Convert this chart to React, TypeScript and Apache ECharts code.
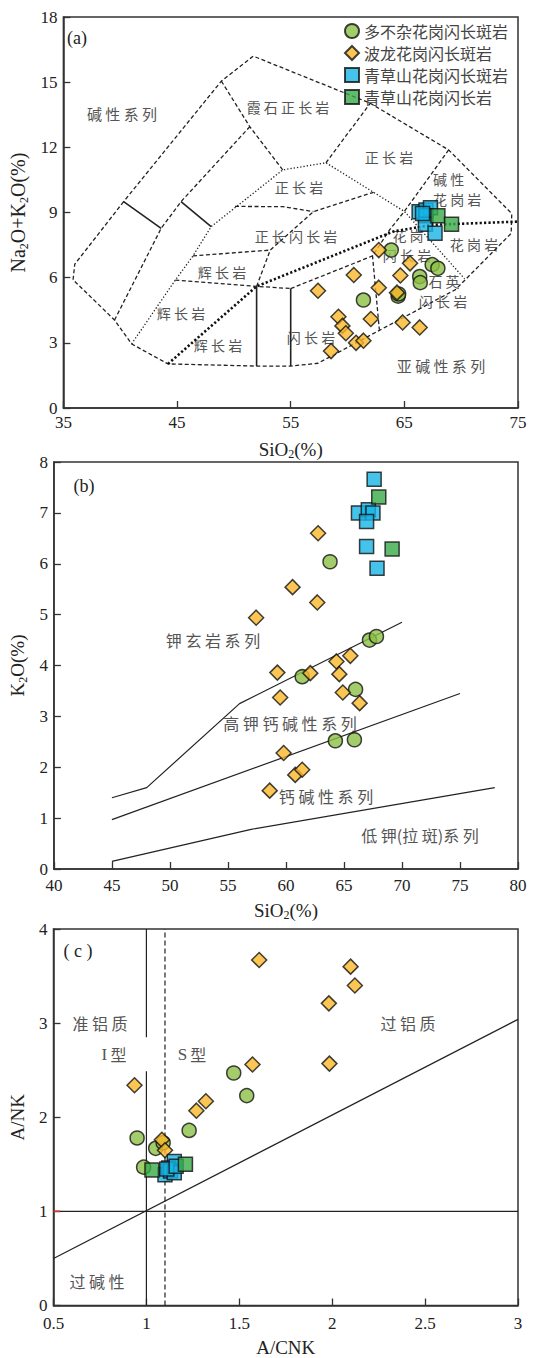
import React, { useEffect, useRef } from 'react';
import * as echarts from 'echarts';

// ---------- series names ----------
const seriesNames = ['多不杂花岗闪长斑岩', '波龙花岗闪长斑岩', '青草山花岗闪长斑岩', '青草山花岗闪长岩'];

// ---------- (a) TAS: SiO2 vs Na2O+K2O ----------
const tasCircle = [[63.85, 7.27], [67.45, 6.6], [67.95, 6.43], [66.35, 6.05], [66.4, 5.77], [64.45, 5.15], [64.5, 5.25], [61.4, 4.97]];
const tasDiamond = [[57.4, 5.4], [60.55, 6.12], [62.75, 7.27], [62.75, 5.54], [62.05, 4.1], [59.2, 4.2], [59.55, 3.78], [59.85, 3.44], [58.55, 2.62], [60.75, 3.0], [61.4, 3.1], [64.65, 6.1], [65.5, 6.66], [64.35, 5.31], [64.85, 3.94], [66.35, 3.71]];
const tasBlue = [[66.3, 9.04], [66.9, 9.12], [67.3, 9.22], [66.9, 8.85], [66.85, 8.46], [67.7, 8.04], [66.6, 8.95]];
const tasGreenSq = [[67.95, 8.85], [69.15, 8.46]];

// TAS field boundaries
const tasOuter = [[40.3, 9.5], [36.0, 6.62], [35.85, 5.9], [39.5, 4.05], [41.0, 2.95], [44.2, 2.03], [52.0, 1.93], [55.0, 1.93], [57.4, 2.06], [69.5, 5.45], [74.4, 8.04], [74.45, 8.95], [68.9, 11.88], [62.0, 14.03], [51.7, 16.2], [48.9, 15.05], [40.3, 9.5]];
const tasL1 = [[39.5, 4.05], [43.6, 8.27], [45.35, 9.5], [51.4, 12.95]];
const tasL1b = [[48.9, 15.05], [51.4, 12.95], [54.3, 10.96]];
const tasSolid1 = [[40.3, 9.5], [43.6, 8.27]];
const tasSolid2 = [[45.35, 9.5], [48.0, 8.35]];
const tasSolid3 = [[52.0, 1.93], [52.0, 5.6]];
const tasSolid4 = [[55.0, 1.93], [55.0, 5.5]];
const tasDot = [[41.0, 2.95], [44.85, 5.89], [46.4, 7.0], [48.0, 8.35], [54.3, 10.96], [58.1, 11.29], [65.0, 9.05], [70.3, 5.95]];
const tasL3 = [[58.1, 11.29], [62.0, 14.03]];
const tasL5 = [[68.9, 11.88], [65.0, 9.05], [63.7, 8.2], [62.2, 7.0], [62.8, 3.6]];
const tasL6 = [[55.0, 5.5], [62.2, 7.0]];
const tasL8 = [[46.4, 7.0], [53.2, 7.27]];
const tasL9 = [[52.0, 5.6], [53.2, 7.27], [57.0, 9.04], [62.3, 9.93]];
const tasL10 = [[50.1, 9.28], [54.3, 9.27], [57.0, 9.04]];
const tasL11 = [[44.85, 5.89], [52.0, 5.6], [55.0, 5.5]];
const tasAlkali = [[44.2, 2.03], [52.0, 5.6], [64.0, 8.12], [67.4, 8.43], [75, 8.58]];
const tasXTicks = [35, 45, 55, 65, 75];

// ---------- (b) SiO2 vs K2O ----------
const kCircle = [[63.8, 6.04], [67.2, 4.5], [67.8, 4.57], [61.4, 3.78], [66.0, 3.53], [64.26, 2.52], [65.9, 2.54]];
const kDiamond = [[62.77, 6.6], [60.57, 5.54], [62.7, 5.24], [57.43, 4.94], [59.26, 3.86], [64.35, 4.08], [65.55, 4.19], [62.1, 3.85], [64.6, 3.83], [59.5, 3.37], [64.9, 3.47], [66.35, 3.26], [59.8, 2.28], [60.8, 1.85], [61.4, 1.95], [58.6, 1.54]];
const kBlue = [[67.6, 7.66], [66.25, 7.0], [67.1, 7.06], [67.5, 7.0], [66.95, 6.83], [66.95, 6.34], [67.85, 5.91]];
const kGreenSq = [[68.0, 7.31], [69.15, 6.29]];
const kLineShoshonite = [[45, 1.4], [48, 1.6], [56, 3.25], [70, 4.85]];
const kLineHighK = [[45, 0.97], [75, 3.45]];
const kLineLowK = [[45, 0.15], [57, 0.78], [78, 1.6]];

// ---------- (c) A/CNK vs A/NK ----------
const aCircle = [[0.95, 1.78], [1.05, 1.67], [1.09, 1.73], [0.985, 1.47], [1.23, 1.86], [1.47, 2.47], [1.54, 2.23]];
const aDiamond = [[2.77, 4.02], [1.607, 3.67], [2.099, 3.6], [2.122, 3.4], [1.982, 3.21], [1.985, 2.57], [1.571, 2.56], [0.936, 2.34], [1.32, 2.17], [1.269, 2.07], [1.083, 1.76], [1.1, 1.65]];
const aBlue = [[1.1, 1.39], [1.15, 1.53], [1.12, 1.46], [1.13, 1.43], [1.15, 1.41], [1.11, 1.45], [1.16, 1.48]];
const aGreenSq = [[1.03, 1.44], [1.21, 1.5]];
const aLineHoriz = [[0.5, 1], [3, 1]];
const aLineVertLow = [[1, 0], [1, 2.49]];
const aLineVertHigh = [[1, 2.85], [1, 4]];
const aLineDashed = [[1.1, 0], [1.1, 4]];
const aLineDiag = [[0.5, 0.5], [3, 3.04]];
const aRedTick = [[0.5, 1], [0.535, 1]];

const SERIF = '"Liberation Serif", "Times New Roman", serif';
const CJK = '"Noto Sans CJK SC", sans-serif';

const colors = ['#8cbf45', '#fbb829', '#16b4e6', '#3aaa48'];
const symbols = ['circle', 'diamond', 'rect', 'rect'];
const sizes = [14, 15, 14, 14];

const dashed = { color: '#222', width: 1.3, type: [4, 2.5] };
const dotted = { color: '#222', width: 1.3, type: [1.3, 2] };
const heavyDot = { color: '#111', width: 2.6, type: [2.2, 2.2] };
const solid = { color: '#222', width: 1.6, type: 'solid' };
const thin = { color: '#222', width: 1.2, type: 'solid' };

function ln(data: number[][], g: number, style: any, z = 3) {
  return { type: 'line', xAxisIndex: g, yAxisIndex: g, data, symbol: 'none', silent: true, lineStyle: style, z };
}
function sc(i: number, data: number[][], g: number) {
  return {
    type: 'scatter', name: seriesNames[i], xAxisIndex: g, yAxisIndex: g, data,
    symbol: symbols[i], symbolSize: sizes[i],
    itemStyle: { color: colors[i], borderColor: '#111', borderWidth: 1.5 }, z: 5,
  };
}
function txt(text: string, x: number, y: number, extra: any = {}) {
  const fs = extra.fontSize || 14;
  return {
    type: 'text', x, y, z: 1, silent: true,
    style: {
      text, fill: '#555', fontSize: fs, fontFamily: CJK, lineHeight: fs,
      textAlign: 'center', textVerticalAlign: 'middle', align: 'center', verticalAlign: 'middle',
      ...extra,
    },
  };
}
const mixRich = {
  s: { fontFamily: SERIF, fontSize: 17, color: '#555', lineHeight: 16 },
  c: { fontFamily: CJK, fontSize: 16, color: '#555', lineHeight: 16 },
};

const richName = {
  a: { fontSize: 19, fontFamily: SERIF, color: '#222', lineHeight: 22 },
  b: { fontSize: 12, fontFamily: SERIF, color: '#222', verticalAlign: 'bottom', lineHeight: 15 },
};
const richNameBig = {
  a: { fontSize: 20, fontFamily: SERIF, color: '#222', lineHeight: 23 },
  b: { fontSize: 12, fontFamily: SERIF, color: '#222', verticalAlign: 'bottom', lineHeight: 15 },
};
const tickLabel = { color: '#222', fontFamily: SERIF, fontSize: 17 };
const axLine = { show: true, lineStyle: { color: '#333', width: 1.5 } };
const tickStyle = { show: true, inside: true, length: 7, lineStyle: { color: '#333', width: 1.3 } };

function xAx(g: number, min: number, max: number, extra: any, name: string, gap: number, margin: number) {
  return {
    type: 'value', gridIndex: g, min, max, name, nameLocation: 'middle', nameGap: gap,
    nameTextStyle: { rich: richName },
    axisLine: axLine, axisTick: { ...tickStyle, ...(extra.tick || {}) },
    axisLabel: { ...tickLabel, margin, ...(extra.axisLabel || {}) },
    splitLine: { show: false }, ...(extra.base || {}),
  };
}
function yAx(g: number, min: number, max: number, interval: number, name: string, gap: number, rich: any) {
  return {
    type: 'value', gridIndex: g, min, max, interval, name, nameLocation: 'middle', nameGap: gap,
    nameTextStyle: { rich },
    axisLine: axLine, axisTick: tickStyle,
    axisLabel: { ...tickLabel, margin: 6 },
    splitLine: { show: false },
  };
}

export default function App() {
  const ref = useRef<HTMLDivElement>(null);
  useEffect(() => {
    if (!ref.current) return;
    const chart = echarts.init(ref.current, null, { renderer: 'svg' });
    const gridBase = { show: true, borderColor: '#333', borderWidth: 1.5, backgroundColor: 'transparent', left: 52, width: 466 };
    const option: any = {
      animation: false,
      backgroundColor: '#fff',
      grid: [
        { ...gridBase, top: 17, height: 391 },
        { ...gridBase, top: 462, height: 407 },
        { ...gridBase, top: 929, height: 381 },
      ],
      xAxis: [
        xAx(0, 35, 75, { axisLabel: { customValues: tasXTicks }, tick: { customValues: tasXTicks } }, '{a|SiO}{b|2}{a|(%)}', 30, 6),
        xAx(1, 40, 80, { base: { interval: 5 } }, '{a|SiO}{b|2}{a|(%)}', 30, 8),
        xAx(2, 0.5, 3, { base: { interval: 0.5 } }, '{a|A/CNK}', 31, 9),
      ],
      yAxis: [
        yAx(0, 0, 18, 3, '{a|Na}{b|2}{a|O+K}{b|2}{a|O(%)}', 25, richNameBig),
        yAx(1, 0, 8, 1, '{a|K}{b|2}{a|O(%)}', 25, richName),
        yAx(2, 0, 4, 1, '{a|A/NK}', 25, richName),
      ],
      legend: {
        show: true, orient: 'vertical', left: 344, top: 23, itemGap: 6, itemWidth: 14, itemHeight: 14,
        padding: 0, selectedMode: false, data: seriesNames,
        textStyle: { fontFamily: CJK, fontSize: 16, color: '#444' },
      },
      graphic: [
        txt('(a)', 77, 38, { fontFamily: SERIF, fontSize: 18, fill: '#222' }),
        txt('碱 性 系 列', 122, 113, { fontSize: 15 }),
        txt('霞 石 正 长 岩', 288, 107),
        txt('正 长 岩', 389, 157),
        txt('正 长 岩', 299, 187),
        txt('碱 性', 433, 179, { textAlign: 'left', align: 'left' }),
        txt('花 岗 岩', 433, 199, { textAlign: 'left', align: 'left' }),
        txt('正 长 闪 长 岩', 296, 236),
        txt('辉 长 岩', 222, 272),
        txt('辉 长 岩', 181, 313),
        txt('辉 长 岩', 218, 345),
        txt('闪 长 岩', 311, 337),
        txt('花 岗', 408, 235),
        txt('闪 长 岩', 407, 255),
        txt('花 岗 岩', 474, 244),
        txt('石 英', 444, 281),
        txt('闪 长 岩', 443, 301),
        txt('亚 碱 性 系 列', 441, 365, { fontSize: 15 }),

        txt('(b)', 84, 486, { fontFamily: SERIF, fontSize: 18, fill: '#222' }),
        txt('钾 玄 岩 系 列', 213, 640, { fontSize: 16 }),
        txt('高 钾 钙 碱 性 系 列', 290, 723, { fontSize: 16 }),
        txt('钙 碱 性 系 列', 326, 796, { fontSize: 16 }),
        txt('低 钾(拉 斑)系 列', 420, 835, { fontSize: 16 }),

        txt('( c )', 78, 951, { fontFamily: SERIF, fontSize: 18, fill: '#222' }),
        txt('准 铝 质', 100, 1023, { fontSize: 16 }),
        txt('{s|I} {c|型}', 114, 1054, { rich: mixRich }),
        txt('{s|S} {c|型}', 192, 1054, { rich: mixRich }),
        txt('过 铝 质', 408, 1023, { fontSize: 16 }),
        txt('过 碱 性', 97, 1281, { fontSize: 16 }),
      ],
      series: [
        // (a) boundaries
        ln(tasOuter, 0, dashed),
        ln(tasL1, 0, dashed),
        ln(tasL1b, 0, dashed),
        ln(tasL3, 0, dashed),
        ln(tasL5, 0, dashed),
        ln(tasL6, 0, dashed),
        ln(tasL8, 0, dashed),
        ln(tasL9, 0, dashed),
        ln(tasL10, 0, dashed),
        ln(tasL11, 0, dashed),
        ln(tasDot, 0, dotted),
        ln(tasAlkali, 0, heavyDot),
        ln(tasSolid1, 0, solid),
        ln(tasSolid2, 0, solid),
        ln(tasSolid3, 0, solid),
        ln(tasSolid4, 0, solid),
        sc(0, tasCircle, 0),
        sc(1, tasDiamond, 0),
        sc(2, tasBlue, 0),
        sc(3, tasGreenSq, 0),
        // (b)
        ln(kLineShoshonite, 1, thin),
        ln(kLineHighK, 1, thin),
        ln(kLineLowK, 1, thin),
        sc(0, kCircle, 1),
        sc(1, kDiamond, 1),
        sc(2, kBlue, 1),
        sc(3, kGreenSq, 1),
        // (c)
        ln(aLineHoriz, 2, thin),
        ln(aLineVertLow, 2, thin),
        ln(aLineVertHigh, 2, thin),
        ln(aLineDashed, 2, { color: '#222', width: 1.2, type: [5, 3] }),
        ln(aLineDiag, 2, thin),
        ln(aRedTick, 2, { color: '#e03030', width: 1.5, type: 'solid' }, 4),
        sc(0, aCircle, 2),
        sc(1, aDiamond, 2),
        sc(2, aBlue, 2),
        sc(3, aGreenSq, 2),
      ],
    };
    chart.setOption(option);
    return () => chart.dispose();
  }, []);
  return <div ref={ref} style={{ position: 'fixed', left: 0, top: 0, width: 533, height: 1358, background: '#fff' }} />;
}
